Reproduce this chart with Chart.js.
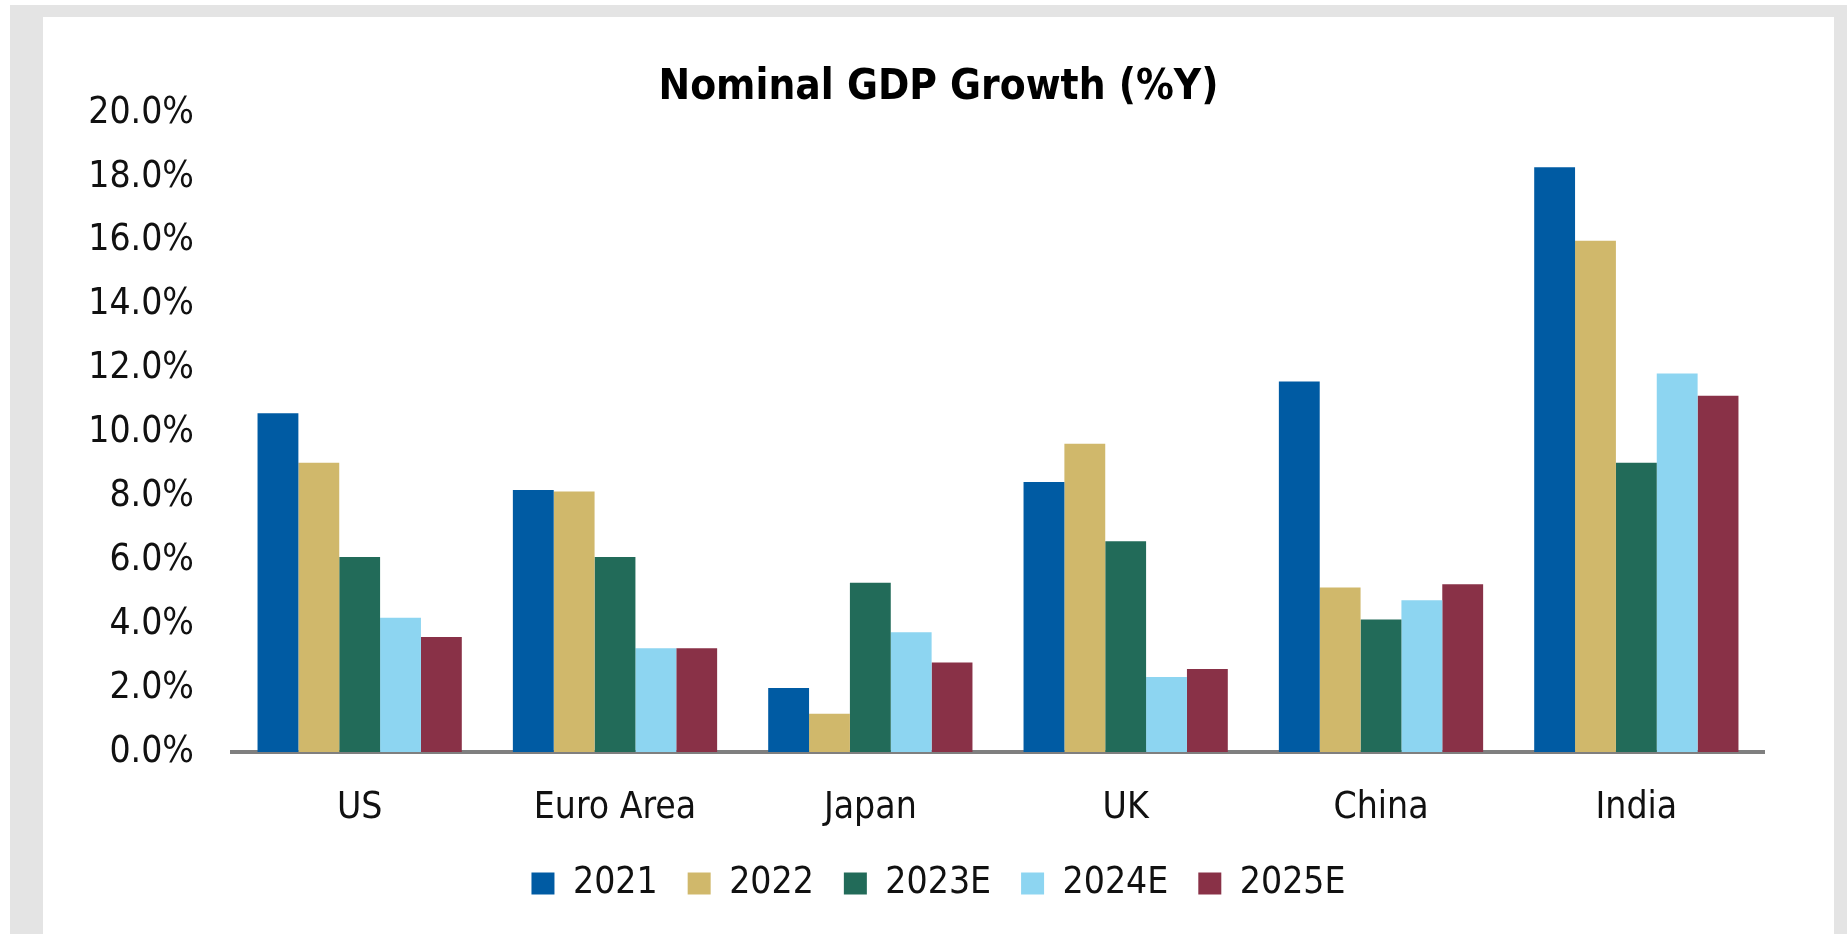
<!DOCTYPE html>
<html lang="en">
<head>
    <meta charset="UTF-8">
    <title>Nominal GDP Growth (%Y)</title>
    <script src="https://cdn.jsdelivr.net/npm/chart.js"></script>
    <style>
        body {
            margin: 0;
            background-color: #ffffff;
            overflow: hidden;
        }
        #frame {
            position: absolute;
            left: 10px;
            top: 5px;
            right: 0;
            bottom: 0;
            background-color: #e4e4e4;
        }
        #chart-container {
            position: absolute;
            left: 43px;
            top: 17px;
            width: 1791px;
            height: 917px;
            background-color: #ffffff;
        }
    </style>
</head>
<body>

<div id="frame"></div>
<div id="chart-container">
    <canvas id="gdpChart"></canvas>
</div>

<script>
    const categories = ['US', 'Euro Area', 'Japan', 'UK', 'China', 'India'];
    const seriesNames = ['2021', '2022', '2023E', '2024E', '2025E'];

    // nominal GDP growth, % y/y
    const values2021 = [10.6, 8.2, 2.0, 8.45, 11.6, 18.3];
    const values2022 = [9.05, 8.15, 1.2, 9.65, 5.15, 16.0];
    const values2023E = [6.1, 6.1, 5.3, 6.6, 4.15, 9.05];
    const values2024E = [4.2, 3.25, 3.75, 2.35, 4.75, 11.85];
    const values2025E = [3.6, 3.25, 2.8, 2.6, 5.25, 11.15];

    const yTicks = [0, 2, 4, 6, 8, 10, 12, 14, 16, 18, 20];

    const colors = ['#005ba3', '#d0b86b', '#226b59', '#8dd5f1', '#893147'];
    // no narrow font installed, condensed DejaVu is closest
    const fontFamily = "'DejaVu Sans Condensed', 'Liberation Sans Narrow', sans-serif";

    const allValues = [values2021, values2022, values2023E, values2024E, values2025E];

    const ctx = document.getElementById('gdpChart').getContext('2d');

    new Chart(ctx, {
        type: 'bar',
        data: {
            labels: categories,
            datasets: seriesNames.map((name, i) => ({
                label: name,
                data: allValues[i],
                backgroundColor: colors[i],
                borderWidth: 0,
                categoryPercentage: 0.8,
                barPercentage: 1.0
            }))
        },
        options: {
            responsive: true,
            maintainAspectRatio: false,
            animation: false,
            layout: {
                padding: { top: 0, left: 0, right: 0, bottom: 22 }
            },
            plugins: {
                title: {
                    display: true,
                    text: 'Nominal GDP Growth (%Y)',
                    color: '#000000',
                    font: { family: fontFamily, size: 42, weight: 'bold', lineHeight: 1.0 },
                    padding: { top: 50, bottom: 4 }
                },
                legend: {
                    position: 'bottom',
                    labels: {
                        color: '#111111',
                        font: { family: fontFamily, size: 37 },
                        boxWidth: 23,
                        boxHeight: 22,
                        padding: 30
                    }
                },
                tooltip: { enabled: false }
            },
            scales: {
                x: {
                    grid: { display: false, drawTicks: false },
                    border: { display: true, color: '#7f7f7f', width: 4 },
                    ticks: {
                        color: '#111111',
                        font: { family: fontFamily, size: 37 },
                        padding: 34
                    },
                    afterFit: function(scale) {
                        scale.height = 83;
                    }
                },
                y: {
                    min: 0,
                    max: 20,
                    grid: { display: false, drawTicks: false },
                    border: { display: false },
                    afterBuildTicks: function(scale) {
                        scale.ticks = yTicks.map(v => ({ value: v }));
                    },
                    ticks: {
                        color: '#111111',
                        font: { family: fontFamily, size: 37 },
                        padding: 38,
                        callback: function(value) {
                            return value.toFixed(1) + '%';
                        }
                    },
                    afterFit: function(scale) {
                        scale.width = 189;
                    }
                },
                // empty right-hand spacer, keeps the plot short of the panel edge
                // while title and legend stay centred on the whole panel
                spacer: {
                    type: 'linear',
                    position: 'right',
                    grid: { display: false, drawTicks: false },
                    border: { display: false },
                    ticks: { display: false },
                    afterFit: function(scale) {
                        scale.width = 70;
                    }
                }
            }
        }
    });
</script>

</body>
</html>
